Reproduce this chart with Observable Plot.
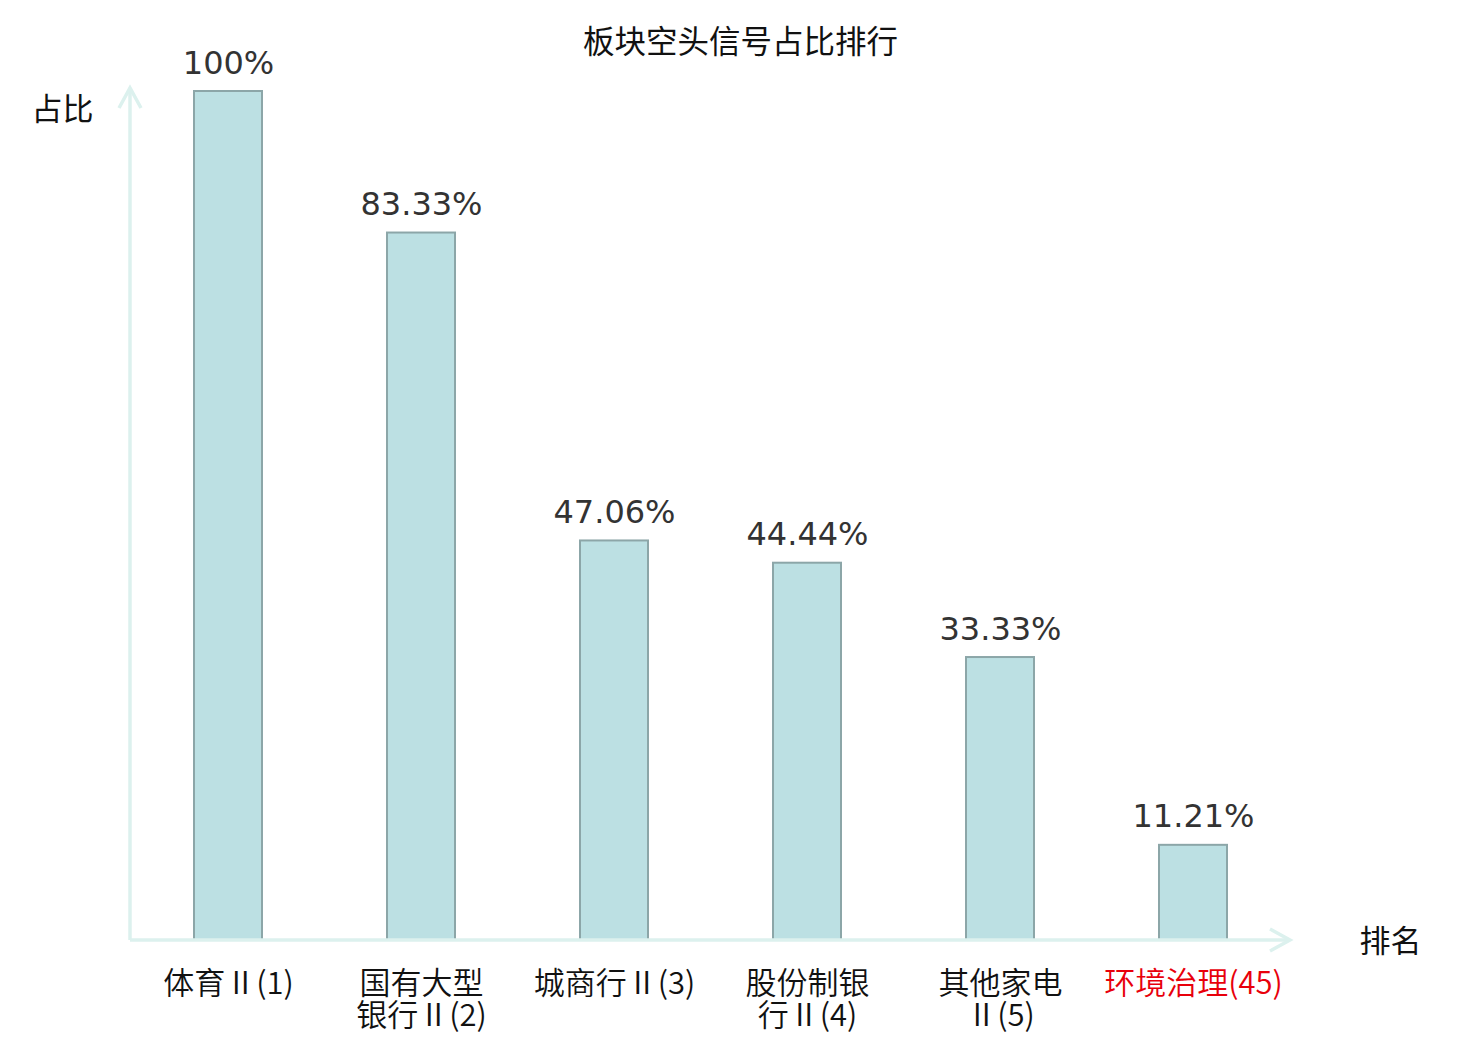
<!DOCTYPE html>
<html>
<head>
<meta charset="utf-8">
<script src="https://cdn.jsdelivr.net/npm/d3@7"></script>
<script src="https://cdn.jsdelivr.net/npm/@observablehq/plot@0.6"></script>
<style>
  html, body { margin: 0; padding: 0; background: #fff; }
  #chart svg { display: block; }
</style>
</head>
<body>
<div id="chart"></div>
<script>
const categories = ["体育Ⅱ(1)", "国有大型银行Ⅱ(2)", "城商行Ⅱ(3)", "股份制银行Ⅱ(4)", "其他家电Ⅱ(5)", "环境治理(45)"];
const tickLabels = ["体育Ⅱ(1)", "国有大型\n银行Ⅱ(2)", "城商行Ⅱ(3)", "股份制银\n行Ⅱ(4)", "其他家电\nⅡ(5)", "环境治理(45)"];
const values = [100, 83.33, 47.06, 44.44, 33.33, 11.21];
const valueLabels = ["100%", "83.33%", "47.06%", "44.44%", "33.33%", "11.21%"];
const highlight = [false, false, false, false, false, true];

const data = categories.map((c, i) => ({
  category: c, tick: tickLabels[i], value: values[i], label: valueLabels[i], hi: highlight[i]
}));

const cjk = "'Noto Sans CJK SC', 'Noto Sans', sans-serif";
const latin = "'DejaVu Sans', 'Noto Sans CJK SC', sans-serif";
const axisColor = "#dcf1ee";

function axesArrows(index, scales, values, dim) {
  const {width, height, marginLeft, marginRight, marginTop, marginBottom} = dim;
  const x0 = marginLeft, y0 = height - marginBottom;
  const x1 = width - marginRight, y1 = marginTop - 3;
  const g = d3.create("svg:g")
    .attr("fill", "none")
    .attr("stroke", axisColor)
    .attr("stroke-width", 3.5)
    .attr("stroke-linejoin", "miter");
  g.append("path").attr("d", `M${x0},${y0}H${x1}`);
  g.append("path").attr("d", `M${x1 - 20},${y0 - 11}L${x1},${y0}L${x1 - 20},${y0 + 11}`);
  g.append("path").attr("d", `M${x0},${y0}V${y1}`);
  g.append("path").attr("d", `M${x0 - 11},${y1 + 20}L${x0},${y1}L${x0 + 11},${y1 + 20}`);
  return g.node();
}

const chart = Plot.plot({
  width: 1480,
  height: 1040,
  marginLeft: 130,
  marginRight: 190,
  marginTop: 91,
  marginBottom: 100,
  style: {fontFamily: cjk, background: "#fff"},
  x: {domain: categories, paddingInner: 0.648, paddingOuter: 0.324, axis: null},
  y: {domain: [0, 100], axis: null},
  marks: [
    Plot.barY(data, {x: "category", y: "value", fill: "#bce0e3", stroke: "#8ca6a8", strokeWidth: 2}),
    axesArrows,
    Plot.text(data, {
      x: "category", y: "value", text: "label", dy: -18, lineAnchor: "bottom",
      fontSize: 32, fill: "#333", fontFamily: latin
    }),
    Plot.text(data, {
      x: "category", text: "tick", frameAnchor: "bottom", lineAnchor: "top", dy: 31,
      fontSize: 31, lineHeight: 1.03, fontWeight: 350, fill: d => d.hi ? "#e8000b" : "#111", fontFamily: cjk
    }),
    Plot.text(["板块空头信号占比排行"], {
      frameAnchor: "top", dx: 30, dy: -49, lineAnchor: "middle", fontSize: 31.5, fill: "#111", fontFamily: cjk
    }),
    Plot.text(["占比"], {
      frameAnchor: "top-left", dx: -68, dy: 19, textAnchor: "middle", lineAnchor: "middle", fontSize: 31, fill: "#111", fontFamily: cjk
    }),
    Plot.text(["排名"], {
      frameAnchor: "bottom-right", dx: 100, dy: 2, textAnchor: "middle", lineAnchor: "middle", fontSize: 31, fill: "#111", fontFamily: cjk
    })
  ]
});

document.getElementById("chart").appendChild(chart);
</script>
</body>
</html>
